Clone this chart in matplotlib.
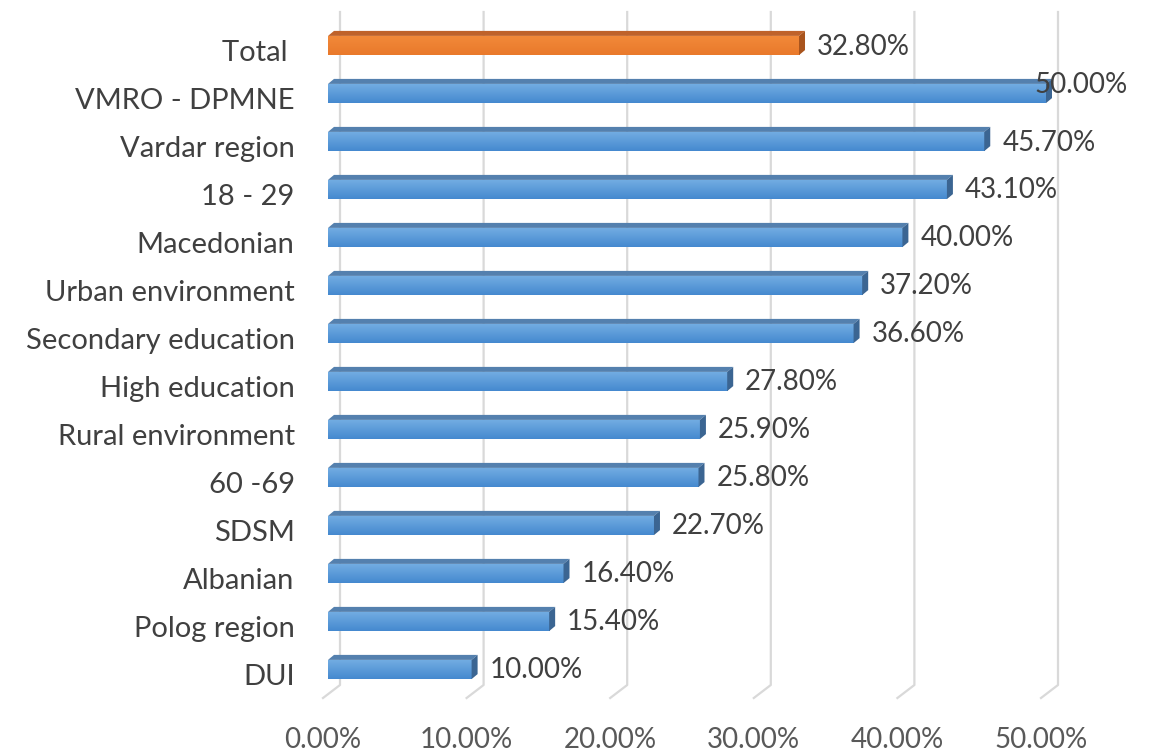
"""Horizontal 3D-style bar chart of shares by group, saved as out.png."""

import matplotlib

matplotlib.use("Agg")

import matplotlib.pyplot as plt
import numpy as np
from matplotlib.colors import LinearSegmentedColormap
from matplotlib.lines import Line2D
from matplotlib.patches import Polygon
from matplotlib.transforms import Affine2D, IdentityTransform

categories = [
    "Total ", "VMRO - DPMNE", "Vardar region", "18 - 29", "Macedonian",
    "Urban environment", "Secondary education", "High education",
    "Rural environment", "60 -69", "SDSM", "Albanian", "Polog region", "DUI",
]
values = [32.8, 50.0, 45.7, 43.1, 40.0, 37.2, 36.6, 27.8, 25.9, 25.8, 22.7, 16.4, 15.4, 10.0]
highlight = ["Total "]
xticks = [0, 10, 20, 30, 40, 50]

# palette
BLUE_TOP, BLUE_BOT = "#74aee3", "#4589cf"
BLUE_LID, BLUE_END = "#5480ae", "#3b6592"
ORANGE_TOP, ORANGE_BOT = "#f28a3a", "#e9792b"
ORANGE_LID, ORANGE_END = "#bf622a", "#a9541d"
GRID = "#d9d9d9"
TEXT = "#404040"
TEXT_2 = "#595959"
FONT = "Lato"
FS = 20

W, H = 1160, 754
fig = plt.figure(figsize=(W / 100, H / 100), dpi=100)
ax = fig.add_axes([328 / W, 56 / H, 718 / W, 686 / H])

n = len(categories)
rows = np.arange(n)[::-1]
BAR_H = 0.4

bars = ax.barh(rows, values, height=BAR_H, zorder=3, linewidth=0)
grad = np.linspace(0, 1, 64).reshape(-1, 1)
for bar, cat, v, y in zip(bars, categories, values, rows):
    hot = cat in highlight
    top, bot = (ORANGE_TOP, ORANGE_BOT) if hot else (BLUE_TOP, BLUE_BOT)
    bar.set_facecolor(bot)
    cmap = LinearSegmentedColormap.from_list("g", [top, bot])
    im = ax.imshow(grad, extent=[0, v, y - BAR_H / 2, y + BAR_H / 2],
                   aspect="auto", cmap=cmap, origin="upper", zorder=3.1)
    im.set_clip_path(bar)

ax.set_xlim(0, 50)
ax.set_ylim(-0.594, 13.698)
for side in ax.spines.values():
    side.set_visible(False)

# back wall gridlines with a short floor edge (pixel offsets give the depth)
to_px = ax.transData.transform
for v in xticks:
    x, ytop = to_px((v, 13.698))
    _, yfloor = to_px((v, -0.594))
    ax.add_line(Line2D([x + 12, x + 12, x - 5], [ytop, yfloor + 13, yfloor],
                       transform=IdentityTransform(), color=GRID, lw=1.6,
                       clip_on=False, zorder=1))

# bar lids and end caps
DX, DY = 6, 5
for cat, v, y in zip(categories, values, rows):
    hot = cat in highlight
    lid, end = (ORANGE_LID, ORANGE_END) if hot else (BLUE_LID, BLUE_END)
    x0, yt = to_px((0, y + BAR_H / 2))
    x1, yb = to_px((v, y - BAR_H / 2))
    ax.add_patch(Polygon([(x0, yt), (x0 + DX, yt + DY), (x1 + DX, yt + DY), (x1, yt)],
                         closed=True, transform=IdentityTransform(), facecolor=lid,
                         edgecolor="none", clip_on=False, zorder=4))
    ax.add_patch(Polygon([(x1, yt), (x1 + DX, yt + DY), (x1 + DX, yb + DY), (x1, yb)],
                         closed=True, transform=IdentityTransform(), facecolor=end,
                         edgecolor="none", clip_on=False, zorder=4))

ax.set_yticks(rows, categories)
ax.set_xticks(xticks, [f"{t:.2f}%" for t in xticks])
ax.tick_params(axis="y", length=0, pad=24, labelsize=FS + 1, labelcolor=TEXT)
ax.tick_params(axis="x", length=0, pad=21, labelsize=FS, labelcolor=TEXT_2)
for lab in ax.get_yticklabels():
    lab.set_fontfamily(FONT)
    lab.set_transform(lab.get_transform() + Affine2D().translate(0, -5))
for lab in ax.get_xticklabels():
    lab.set_fontfamily(FONT)
    lab.set_transform(lab.get_transform() + Affine2D().translate(-5, 0))

labels = []
for v, y in zip(values, rows):
    labels.append(ax.annotate(f"{v:.2f}%", xy=(v, y), xytext=(18, -1),
                              textcoords="offset pixels", va="center", ha="left",
                              fontsize=FS, color=TEXT, family=FONT, zorder=5,
                              annotation_clip=False))

# keep labels inside the canvas, nudging any that overflow up and left
fig.canvas.draw()
renderer = fig.canvas.get_renderer()
for lab in labels:
    bb = lab.get_window_extent(renderer)
    over = bb.x1 - (W - 32)
    if over > 0:
        ox, oy = lab.xyann
        lab.xyann = (ox - over, oy + 10)

fig.savefig("out.png", dpi=100, facecolor="white")
